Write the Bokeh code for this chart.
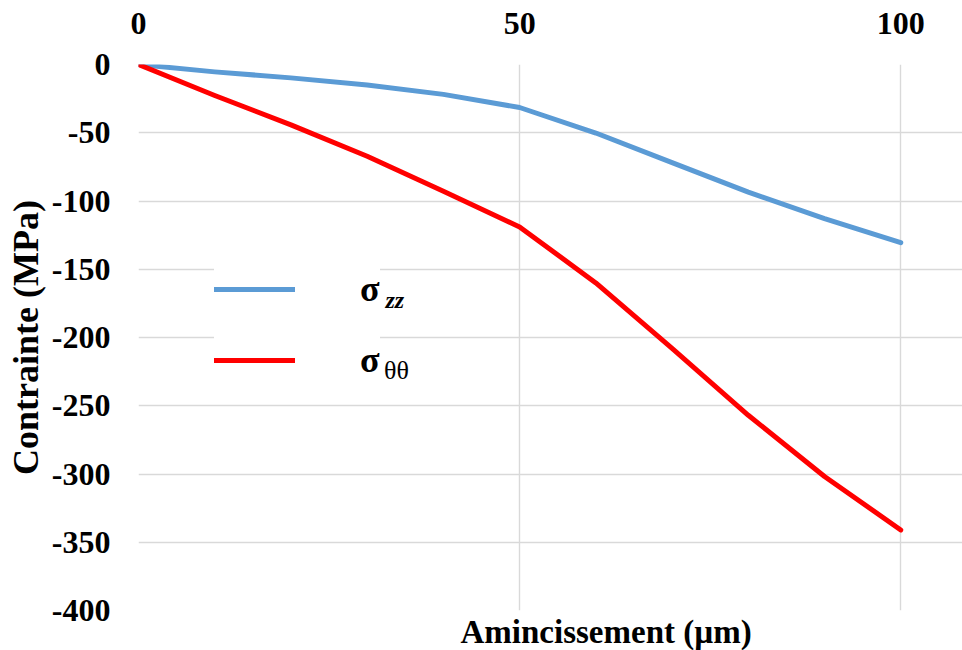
from bokeh.plotting import figure
from bokeh.models import Legend, LegendItem, Label, FixedTicker, Range1d, Title
from bokeh.embed import file_html
from bokeh.resources import INLINE

# ---- data ----
x_um = [0, 10, 20, 30, 40, 50, 60, 70, 80, 90, 100]
sigma_zz = [0, -5.4, -9.8, -15.0, -21.9, -31.5, -50.2, -71.9, -93.5, -112.9, -130.5]
sigma_tt = [0, -22.7, -44.2, -67.2, -92.8, -119.0, -160.0, -208.0, -257.0, -301.8, -341.0]
x_ticks = [0, 50, 100]
y_ticks = [-400, -350, -300, -250, -200, -150, -100, -50, 0]

FONT = "Liberation Serif"

p = figure(width=962, height=650, x_range=Range1d(0, 108.1), y_range=Range1d(-400, 0),
           x_axis_location="above", output_backend="svg", toolbar_location=None, tools="",
           min_border_left=138, min_border_top=64, min_border_bottom=0, min_border_right=0)
p.outline_line_color = None
p.background_fill_color = "white"

# grid
p.xgrid.ticker = FixedTicker(ticks=x_ticks)
p.ygrid.ticker = FixedTicker(ticks=y_ticks)
for g in (p.xgrid, p.ygrid):
    g.grid_line_color = "#d9d9d9"
    g.grid_line_width = 1.4

# axes
for ax in (p.xaxis, p.yaxis):
    ax.axis_line_color = None
    ax.major_tick_line_color = None
    ax.minor_tick_line_color = None
    ax.major_tick_out = 0
    ax.major_tick_in = 0
    ax.minor_tick_out = 0
    ax.major_label_text_font = FONT
    ax.major_label_text_font_style = "bold"
    ax.major_label_text_font_size = "32px"
    ax.major_label_text_color = "black"
p.xaxis.ticker = FixedTicker(ticks=x_ticks)
p.yaxis.ticker = FixedTicker(ticks=y_ticks)
p.xaxis.major_label_overrides = {t: str(t) for t in x_ticks}
p.yaxis.major_label_overrides = {t: str(t) for t in y_ticks}
p.xaxis.major_label_standoff = 31
p.yaxis.major_label_standoff = 28
p.yaxis.axis_label = "Contrainte (MPa)"
p.yaxis.axis_label_text_font = FONT
p.yaxis.axis_label_text_font_style = "bold"
p.yaxis.axis_label_text_font_size = "36px"
p.yaxis.axis_label_text_color = "black"
p.yaxis.axis_label_standoff = 3

# lines
r_zz = p.line(x_um, sigma_zz, line_color="#5B9BD5", line_width=5, line_cap="round", line_join="round")
r_tt = p.line(x_um, sigma_tt, line_color="#FF0000", line_width=5, line_cap="round", line_join="round")

# x axis title below the frame
p.add_layout(Title(text="Amincissement (µm)", align="left", offset=322, standoff=2,
                   text_font=FONT, text_font_style="bold", text_font_size="33px",
                   text_color="black"), "below")

# legend
legend = Legend(items=[LegendItem(label="σ", renderers=[r_zz]),
                       LegendItem(label="σ", renderers=[r_tt])],
                location=(76, 229), orientation="vertical",
                background_fill_color="white", background_fill_alpha=1.0,
                border_line_color=None, padding=16, spacing=29, margin=0,
                glyph_width=81, glyph_height=38, label_height=38, label_standoff=65,
                label_text_font=FONT, label_text_font_style="bold",
                label_text_font_size="36px", label_text_color="black")
p.add_layout(legend)

p.add_layout(Label(x=32.4, y=-172.5, text="zz", text_font=FONT, text_font_style="bold italic",
                   text_font_size="24px", text_baseline="alphabetic", text_color="black"))
p.add_layout(Label(x=32.2, y=-224.3, text="θθ", text_font=FONT, text_font_style="normal",
                   text_font_size="26px", text_baseline="alphabetic", text_color="black"))

open("out.html", "w").write(file_html(p, INLINE))
